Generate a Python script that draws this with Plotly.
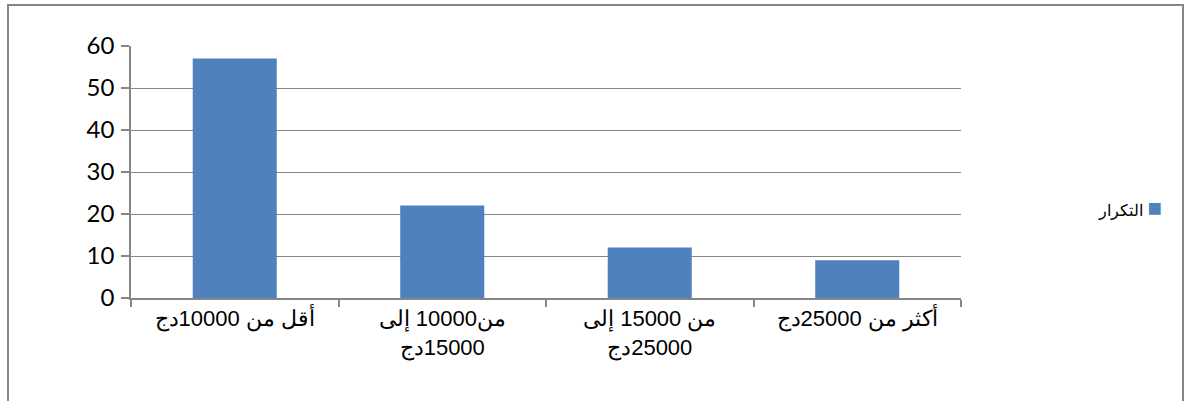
import plotly.graph_objects as go

RLM = "\u200F"
categories = [RLM + "أقل من 10000دج", RLM + "من10000 إلى<br>" + RLM + "15000دج",
              RLM + "من 15000 إلى<br>" + RLM + "25000دج", RLM + "أكثر من 25000دج"]
values = [57, 22, 12, 9]
series_name = "التكرار"
y_ticks = [0, 10, 20, 30, 40, 50, 60]

BLUE = "#4F81BD"
GRAY = "#868686"

fig = go.Figure()
fig.add_trace(go.Bar(x=categories, y=values, name=series_name, marker=dict(color=BLUE, line=dict(width=0)),
                     width=0.405, showlegend=False))

W, H = 1185, 401
L, R, T, B = 131, 224, 46, 103
pw, ph = W - L - R, H - T - B

def px_x(p):
    return (p - L) / pw

def px_y(p):
    return 1 - (p - T) / ph

fig.update_layout(
    width=W, height=H,
    margin=dict(l=L, r=R, t=T, b=B),
    paper_bgcolor="white", plot_bgcolor="white",
    xaxis=dict(showline=True, linecolor=GRAY, linewidth=1.5, ticks="outside", tickson="boundaries",
               ticklen=7, tickcolor=GRAY, tickwidth=1.5, showgrid=False,
               tickfont=dict(family="Liberation Sans, Arial", size=22, color="black")),
    yaxis=dict(range=[0, 60], tickvals=y_ticks, showline=True, linecolor=GRAY, linewidth=1.5,
               ticks="outside", ticklen=8, tickcolor=GRAY, tickwidth=1.5,
               showgrid=True, gridcolor=GRAY, gridwidth=1.2, zeroline=False,
               tickfont=dict(family="Lato, Open Sans, sans-serif", size=24, color="black"),
               ticklabelstandoff=2),
    shapes=[dict(type="rect", xref="paper", yref="paper",
                 x0=px_x(8), x1=px_x(1183), y0=px_y(410), y1=px_y(5),
                 line=dict(color=GRAY, width=2), fillcolor="rgba(0,0,0,0)", layer="below")],
    annotations=[dict(xref="paper", yref="paper", x=px_x(1130), y=px_y(207), xanchor="center", yanchor="middle",
                      showarrow=False,
                      text=series_name + " <span style='color:" + BLUE + ";font-size:24px'>■</span>",
                      font=dict(family="Liberation Sans, Arial", size=16, color="black"))],
)

fig.write_html("out.html")
